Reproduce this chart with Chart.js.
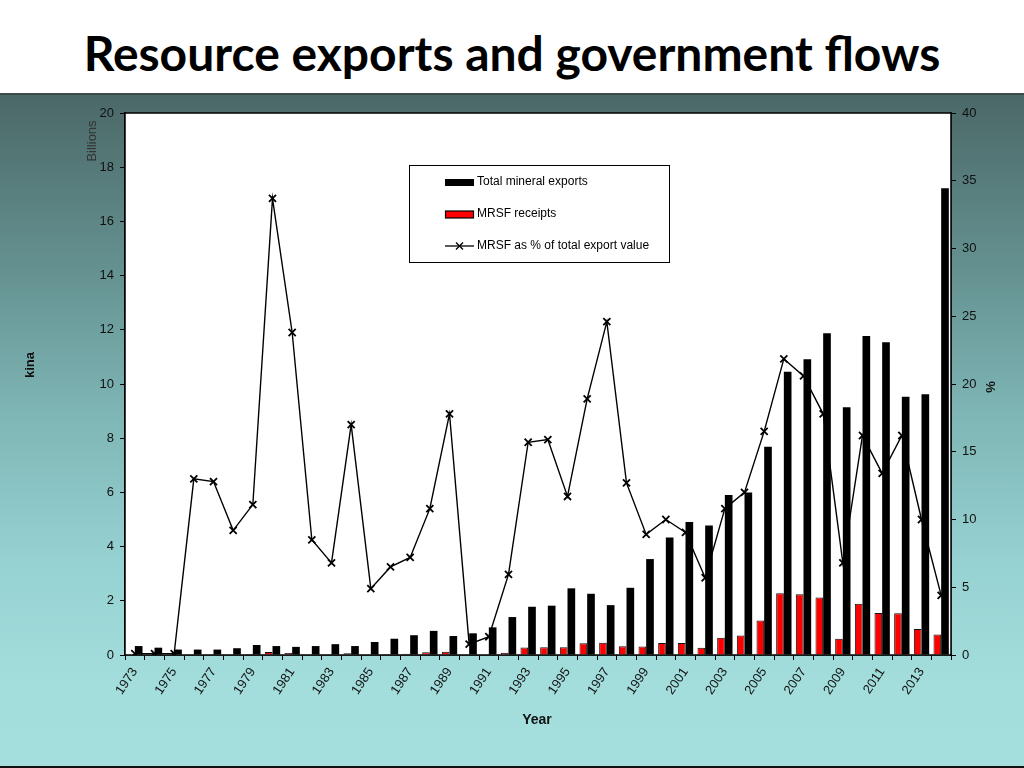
<!DOCTYPE html>
<html>
<head>
<meta charset="utf-8">
<script src="https://cdn.jsdelivr.net/npm/chart.js@4.4.1/dist/chart.umd.min.js"></script>
<style>
  html,body{margin:0;padding:0;width:1024px;height:768px;overflow:hidden;}
  body{position:relative;background:#fff;}
  #header{position:absolute;left:0;top:0;width:1024px;height:93px;background:#fff;border-bottom:2px solid #3c4a4a;}
  #title{position:absolute;left:0;top:29px;width:1024px;text-align:center;font-family:Lato,"Open Sans",sans-serif;font-weight:700;font-size:48px;line-height:48px;color:#000;white-space:nowrap;}
  #panel{position:absolute;left:0;top:95px;width:1024px;height:673px;
    background:linear-gradient(to bottom,#4b6867 0%,#63908f 25%,#7fb6b6 48%,#97d2d2 70%,#a3dedd 88%,#a4dfde 100%);
    border-bottom:2px solid #111;box-sizing:border-box;}
  #c{position:absolute;left:0;top:95px;}
</style>
</head>
<body>
<div id="header"><div id="title">Resource exports and government flows</div></div>
<div id="panel"></div>
<canvas id="c" width="1024" height="673"></canvas>
<script>
const years = ['1973','1974','1975','1976','1977','1978','1979','1980','1981','1982','1983','1984','1985','1986','1987','1988','1989','1990','1991','1992','1993','1994','1995','1996','1997','1998','1999','2000','2001','2002','2003','2004','2005','2006','2007','2008','2009','2010','2011','2012','2013','2014'];
// Total mineral exports (billions kina)
const totalExports = [0.33,0.27,0.20,0.20,0.20,0.25,0.37,0.33,0.30,0.33,0.40,0.33,0.48,0.60,0.73,0.89,0.70,0.80,1.02,1.40,1.78,1.82,2.46,2.26,1.84,2.48,3.54,4.34,4.91,4.78,5.90,6.00,7.68,10.45,10.91,11.87,9.14,11.77,11.54,9.53,9.62,17.22];
// MRSF receipts (billions kina)
const mrsfReceipts = [0.00,0.00,0.00,0.03,0.03,0.02,0.04,0.11,0.07,0.03,0.03,0.06,0.02,0.04,0.05,0.10,0.12,0.01,0.01,0.08,0.28,0.29,0.29,0.43,0.45,0.32,0.31,0.44,0.44,0.27,0.64,0.72,1.27,2.28,2.24,2.12,0.60,1.89,1.55,1.54,0.96,0.76];
// MRSF as % of total export value
const mrsfPercent = [0.1,0.1,0.1,13.0,12.8,9.2,11.1,33.7,23.8,8.5,6.8,17.0,4.9,6.5,7.2,10.8,17.8,0.8,1.35,5.95,15.7,15.9,11.7,18.9,24.6,12.7,8.9,10.0,9.05,5.7,10.8,12.0,16.5,21.85,20.6,17.8,6.8,16.2,13.4,16.2,10.0,4.4];
const leftTicks = [0,2,4,6,8,10,12,14,16,18,20];
const rightTicks = [0,5,10,15,20,25,30,35,40];

const TOP = 95;
const tickFont = {family:"'Liberation Sans Narrow','Liberation Sans',Arial,sans-serif", size:13};

const decor = {
  id:'decor',
  beforeDatasetsDraw(chart){
    const {ctx, chartArea:a} = chart;
    ctx.save();
    ctx.fillStyle = '#fff';
    ctx.fillRect(a.left, a.top, a.right-a.left, a.bottom-a.top);
    ctx.restore();
  },
  afterDraw(chart){
    const {ctx, chartArea:a} = chart;
    ctx.save();
    ctx.strokeStyle = '#000';
    ctx.lineWidth = 1.5;
    ctx.strokeRect(a.left, a.top, a.right-a.left, a.bottom-a.top);

    // axis titles
    ctx.fillStyle = '#333';
    ctx.font = "13px 'Liberation Sans Narrow','Liberation Sans',Arial,sans-serif";
    ctx.textAlign='center'; ctx.textBaseline='middle';
    ctx.save(); ctx.translate(92, 141-TOP); ctx.rotate(-Math.PI/2); ctx.fillText('Billions',0,0); ctx.restore();
    ctx.fillStyle = '#111';
    ctx.font = "bold 13px 'Liberation Sans Narrow','Liberation Sans',Arial,sans-serif";
    ctx.save(); ctx.translate(30, 365-TOP); ctx.rotate(-Math.PI/2); ctx.fillText('kina',0,0); ctx.restore();
    ctx.save(); ctx.translate(991, 387-TOP); ctx.rotate(-Math.PI/2); ctx.fillText('%',0,0); ctx.restore();
    ctx.font = "bold 14px 'Liberation Sans Narrow','Liberation Sans',Arial,sans-serif";
    ctx.fillText('Year', 537, 720-TOP);

    // legend
    const lx = 409.5, ly = 165.5-TOP, lw = 260, lh = 97;
    ctx.fillStyle='#fff'; ctx.fillRect(lx,ly,lw,lh);
    ctx.strokeStyle='#000'; ctx.lineWidth=1; ctx.strokeRect(lx,ly,lw,lh);
    const ds = chart.data.datasets;
    ctx.font = "12px 'Liberation Sans Narrow','Liberation Sans',Arial,sans-serif";
    ctx.textAlign='left'; ctx.textBaseline='middle';
    const rows = [182-TOP, 214-TOP, 246-TOP];
    // entry 1
    ctx.fillStyle='#000'; ctx.fillRect(445, rows[0]-3, 29, 7);
    ctx.fillStyle='#000'; ctx.fillText(ds[0].label, 477, rows[0]);
    // entry 2
    ctx.fillStyle='#ff0000'; ctx.fillRect(445, rows[1]-3, 29, 7);
    ctx.strokeStyle='#000'; ctx.lineWidth=1.2; ctx.strokeRect(445.5, rows[1]-3, 28, 7);
    ctx.fillStyle='#000'; ctx.fillText(ds[1].label, 477, rows[1]);
    // entry 3
    ctx.beginPath(); ctx.moveTo(445, rows[2]); ctx.lineTo(474, rows[2]); ctx.lineWidth=1.3; ctx.stroke();
    ctx.beginPath(); ctx.moveTo(456, rows[2]-3.5); ctx.lineTo(463, rows[2]+3.5); ctx.moveTo(463, rows[2]-3.5); ctx.lineTo(456, rows[2]+3.5); ctx.stroke();
    ctx.fillText(ds[2].label, 477, rows[2]);
    ctx.restore();
  }
};

new Chart(document.getElementById('c'), {
  type:'bar',
  data:{
    labels: years,
    datasets:[
      {label:'Total mineral exports', data: totalExports, backgroundColor:'#000', borderColor:'#000', borderWidth:0, yAxisID:'y', order:2, categoryPercentage:0.78, barPercentage:1.0},
      {label:'MRSF receipts', data: mrsfReceipts, backgroundColor:'#ff0000', borderColor:'#111', borderWidth:1, yAxisID:'y', order:1, categoryPercentage:0.78, barPercentage:1.0},
      {type:'line', label:'MRSF as % of total export value', data: mrsfPercent, yAxisID:'y1', order:0,
        borderColor:'#000', borderWidth:1.4, pointStyle:'crossRot', pointRadius:5, pointBorderWidth:1.8, pointBorderColor:'#000', pointBackgroundColor:'#000', tension:0, fill:false}
    ]
  },
  options:{
    responsive:false,
    devicePixelRatio:1,
    animation:false,
    layout:{padding:{top:18,left:0,right:0,bottom:0}},
    plugins:{legend:{display:false}, tooltip:{enabled:false}},
    scales:{
      x:{
        offset:true,
        grid:{display:true, offset:true, drawOnChartArea:false, drawTicks:true, tickLength:5, color:'#000', lineWidth:1},
        border:{display:true, color:'#000', width:1.5},
        ticks:{autoSkip:false, maxRotation:56, minRotation:56, padding:5, color:'#111', font:tickFont,
          callback:function(v,i){ return i%2===0 ? years[i] : ''; }},
        afterFit(s){ s.height = 113; }
      },
      y:{
        position:'left', min:0, max:20,
        afterBuildTicks(s){ s.ticks = leftTicks.map(v=>({value:v})); },
        grid:{drawOnChartArea:false, drawTicks:true, tickLength:5, color:'#000'},
        border:{display:true, color:'#000', width:1.5},
        ticks:{padding:6, color:'#111', font:tickFont},
        afterFit(s){ s.width = 125; }
      },
      y1:{
        position:'right', min:0, max:40,
        afterBuildTicks(s){ s.ticks = rightTicks.map(v=>({value:v})); },
        grid:{drawOnChartArea:false, drawTicks:true, tickLength:5, color:'#000'},
        border:{display:true, color:'#000', width:1.5},
        ticks:{padding:6, color:'#111', font:tickFont},
        afterFit(s){ s.width = 73; }
      }
    }
  },
  plugins:[decor]
});
</script>
</body>
</html>
